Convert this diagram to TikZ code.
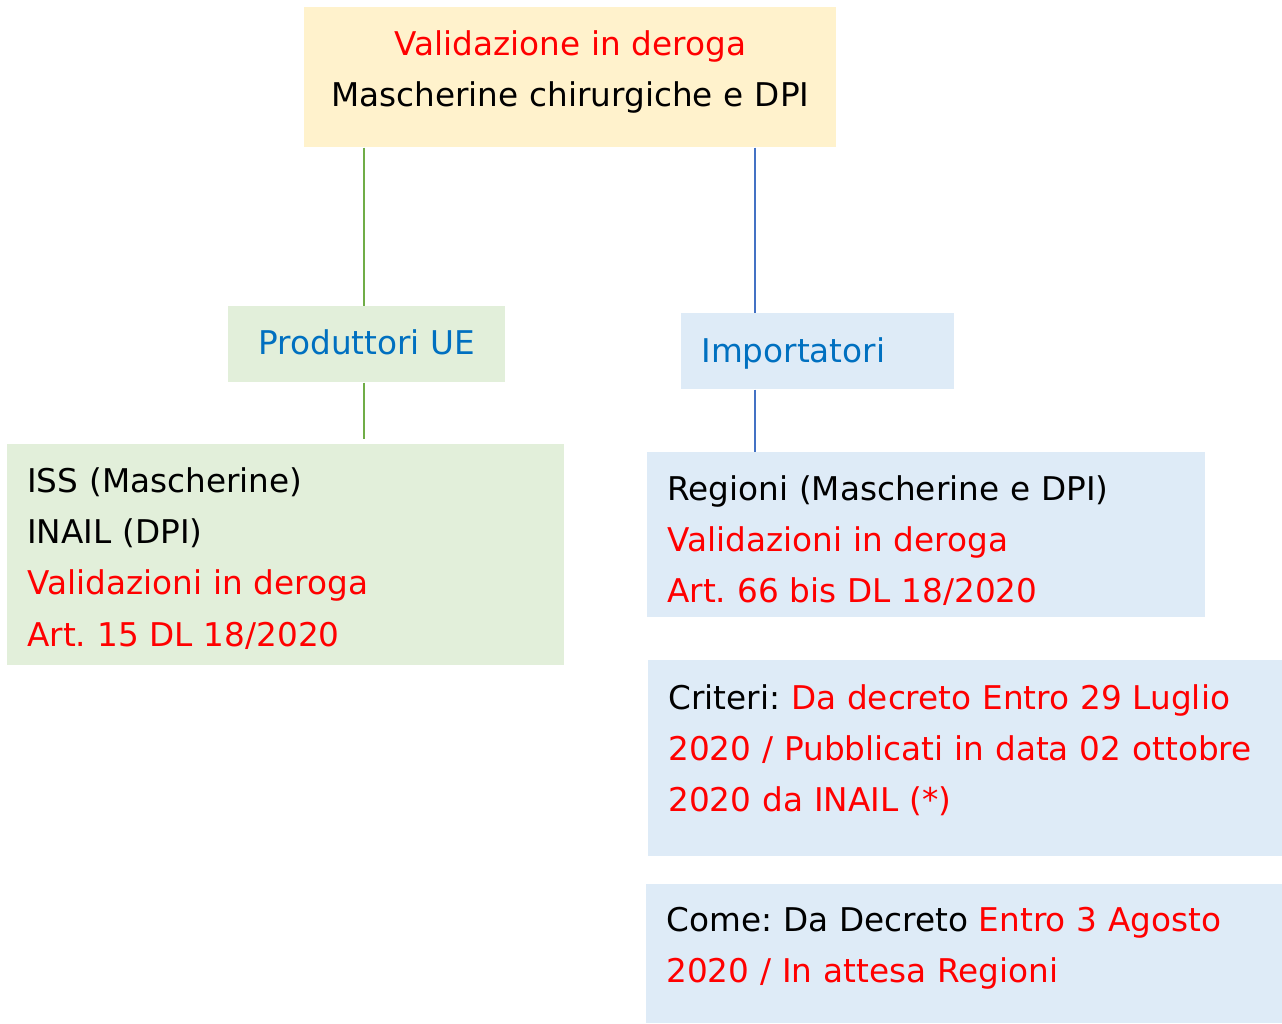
\documentclass[tikz,border=0pt]{standalone}
\usepackage{fontspec}
\setmainfont{DejaVu Sans}
\usetikzlibrary{calc}
\frenchspacing
\definecolor{giallo}{HTML}{FFF2CC}
\definecolor{verdino}{HTML}{E2EFDA}
\definecolor{azzurro}{HTML}{DEEBF7}
\definecolor{blutesto}{HTML}{0070C0}
\definecolor{lineaverde}{HTML}{70AD47}
\definecolor{lineablu}{HTML}{4472C4}
\newcommand{\rosso}[1]{\textcolor{red}{#1}}
\tikzset{
  riquadro/.style={anchor=north west, inner ysep=0pt, inner xsep=0.4cm, align=left,
    font=\fontsize{18.6}{29.2}\selectfont},
  ramo/.style={line width=0.6pt}
}
\begin{document}
\begin{tikzpicture}
        \useasboundingbox (0,0) rectangle (25.64,-20.46);
        \node[riquadro, fill=giallo, inner xsep=0pt, align=center, text width=10.64cm,
              text height=0.96cm, text depth=1.84cm] (top) at (6.08,-0.14)
              {\rosso{Validazione in deroga}\\Mascherine chirurgiche e DPI}; % riquadro in alto
        \node[riquadro, fill=verdino, inner xsep=0pt, align=center, text width=5.54cm,
              text height=0.96cm, text depth=0.56cm, text=blutesto] (prod) at (4.56,-6.12) {Produttori UE};
        \node[riquadro, fill=azzurro, text width=4.66cm,
              text height=0.98cm, text depth=0.54cm, text=blutesto] (imp) at (13.62,-6.26) {Importatori};
        \node[riquadro, fill=verdino, text width=10.34cm,
              text height=0.96cm, text depth=3.46cm] (iss) at (0.14,-8.88)
              {ISS (Mascherine)\\INAIL (DPI)\\\rosso{Validazioni in deroga}\\\rosso{Art. 15 DL 18/2020}};
        \node[riquadro, fill=azzurro, text width=10.36cm,
              text height=0.96cm, text depth=2.34cm] (reg) at (12.94,-9.04)
              {Regioni (Mascherine e DPI)\\\rosso{Validazioni in deroga}\\\rosso{Art. 66 bis DL 18/2020}};
        \node[riquadro, fill=azzurro, text width=11.88cm,
              text height=0.98cm, text depth=2.94cm] (crit) at (12.96,-13.2)
              {Criteri: \rosso{Da decreto Entro 29 Luglio}\\\rosso{2020 / Pubblicati in data 02 ottobre}\\\rosso{2020 da INAIL (*)}};
        \node[riquadro, fill=azzurro, text width=11.92cm,
              text height=0.94cm, text depth=1.84cm] (come) at (12.92,-17.68)
              {Come: Da Decreto \rosso{Entro 3 Agosto}\\\rosso{2020 / In attesa Regioni}};
        \coordinate (vl) at (7.28,0); % asse ramo verde
        \coordinate (bl) at (15.1,0); % asse ramo blu
        \draw[ramo,lineaverde] (top.south -| vl) -- (prod.north -| vl);
        \draw[ramo,lineaverde] (prod.south -| vl) -- ([yshift=0.1cm]iss.north -| vl);
        \draw[ramo,lineablu] (top.south -| bl) -- (imp.north -| bl);
        \draw[ramo,lineablu] (imp.south -| bl) -- (reg.north -| bl);
\end{tikzpicture}
\end{document}
